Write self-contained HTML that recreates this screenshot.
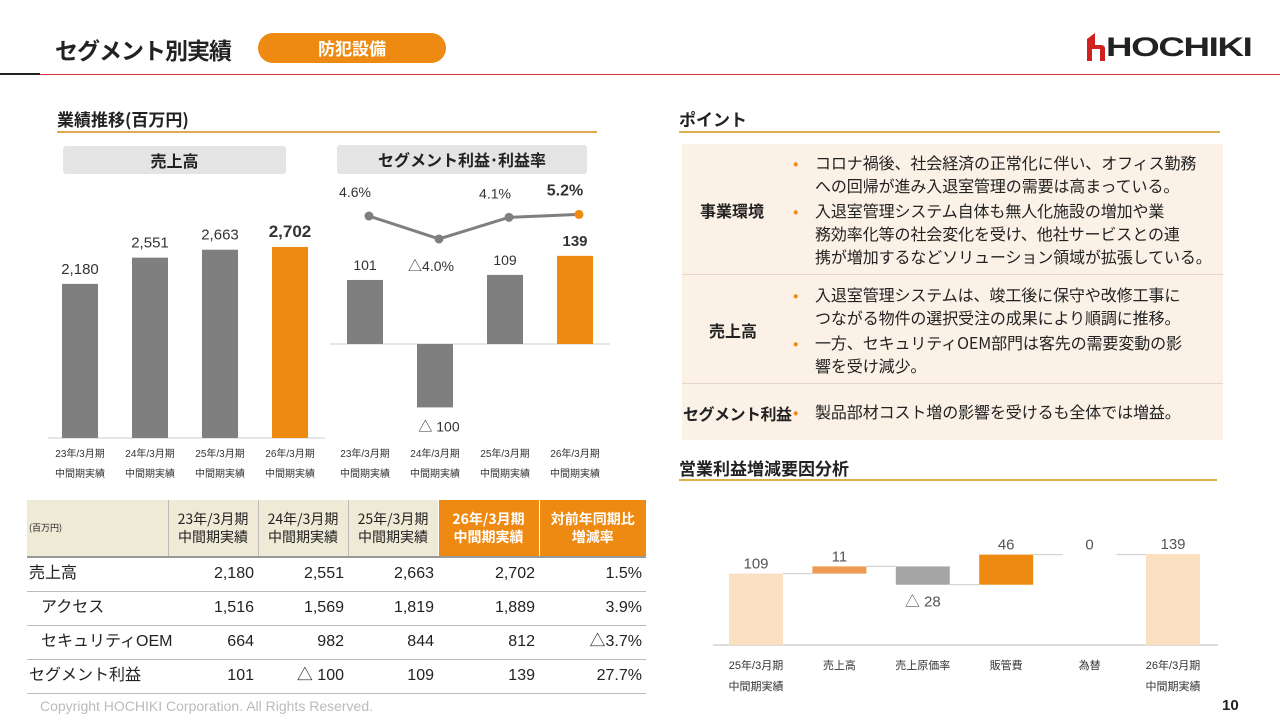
<!DOCTYPE html>
<html><head><meta charset="utf-8">
<style>
*{margin:0;padding:0;box-sizing:border-box}
body{width:1280px;height:720px;background:#fff;font-family:"Liberation Sans","Noto Sans CJK JP",sans-serif;color:#222;position:relative;overflow:hidden}
.a{position:absolute}
.jp{font-family:"Noto Sans CJK JP","Liberation Sans",sans-serif}
table{border-collapse:collapse;position:absolute;left:27px;top:500px;width:619px;font-size:16px;table-layout:fixed;font-family:"Liberation Sans","Noto Sans CJK JP",sans-serif}
td{border-bottom:1px solid #bbb;text-align:right;padding:0 4px 0 0;height:34px;white-space:nowrap;line-height:16px}
td:first-child{text-align:left;padding-left:2px}
th{background:#EEEAD6;font-weight:normal;font-size:14px;line-height:18px;border-left:1px solid #bbb;border-bottom:2px solid #999;height:57px;white-space:nowrap;font-family:"Noto Sans CJK JP",sans-serif}
th.o{background:#EE8A12;color:#fff;font-weight:bold;border-left:1px solid #fff}
.pt{font-size:16px;line-height:23px;color:#222;white-space:nowrap;letter-spacing:-0.1px}
.pt li{list-style:none;position:relative;padding-left:0}
.pt li::before{content:"•";color:#EE8A12;position:absolute;left:-22px}
</style></head><body>
<div class="a" style="left:0;top:73px;width:40px;height:2px;background:#222"></div>
<div class="a" style="left:40px;top:74px;width:1240px;height:1px;background:#E03040"></div>
<div class="a jp" style="left:55px;top:32px;font-size:23px;font-weight:bold;letter-spacing:-1px">セグメント別実績</div>
<div class="a jp" style="left:258px;top:33px;width:188px;height:30px;border-radius:15px;background:#EE8A12;color:#fff;font-weight:bold;font-size:17px;text-align:center;line-height:30px">防犯設備</div>
<div class="a" style="left:1085px;top:33px;height:28px;width:170px">
<svg class="a" style="left:0;top:0" width="20" height="28" viewBox="0 0 20 28"><path d="M2 28V6L10 0V12h6q4 0 4 4v12h-5V16h-8v12z" fill="#D02020"/></svg>
<span class="a" style="left:21px;top:0px;font-weight:900;font-size:27px;line-height:28px;font-family:'Liberation Sans',sans-serif;transform:scaleX(1.36);transform-origin:left top;letter-spacing:-1px">HOCHIKI</span></div>

<div class="a jp" style="left:57px;top:106px;font-size:17px;font-weight:bold">業績推移(百万円)</div>
<div class="a" style="left:57px;top:131px;width:540px;height:2px;background:#E0A850"></div>
<div class="a jp" style="left:63px;top:146px;width:223px;height:28px;background:#E4E4E4;border-radius:3px;text-align:center;font-weight:bold;font-size:16px;line-height:28px">売上高</div>
<div class="a jp" style="left:337px;top:145px;width:250px;height:29px;background:#E4E4E4;border-radius:3px;text-align:center;font-weight:bold;font-size:16px;line-height:28px">セグメント利益･利益率</div>

<svg class="a" id="charts" style="left:0;top:0" width="1280" height="720"></svg>

<div class="a jp" style="left:679px;top:106px;font-size:17px;font-weight:bold">ポイント</div>
<div class="a" style="left:679px;top:131px;width:541px;height:2px;background:#E0B050"></div>
<div class="a" style="left:682px;top:144px;width:541px;height:296px;background:#FCF1E6"></div>
<div class="a" style="left:682px;top:274px;width:541px;height:1px;background:#e6d6c6"></div>
<div class="a" style="left:682px;top:383px;width:541px;height:1px;background:#e6d6c6"></div>
<div class="a jp" style="left:700px;top:198px;font-size:16px;font-weight:bold">事業環境</div>
<div class="a jp" style="left:709px;top:318px;font-size:16px;font-weight:bold">売上高</div>
<div class="a jp" style="left:683px;top:401px;font-size:16px;font-weight:bold;letter-spacing:-0.5px">セグメント利益</div>
<ul class="a pt jp" style="left:815px;top:151px;width:400px">
<li>コロナ禍後、社会経済の正常化に伴い、オフィス勤務<br>への回帰が進み入退室管理の需要は高まっている。</li>
<li style="margin-top:2px">入退室管理システム自体も無人化施設の増加や業<br>務効率化等の社会変化を受け、他社サービスとの連<br>携が増加するなどソリューション領域が拡張している。</li></ul>
<ul class="a pt jp" style="left:815px;top:283px;width:400px">
<li>入退室管理システムは、竣工後に保守や改修工事に<br>つながる物件の選択受注の成果により順調に推移。</li>
<li style="margin-top:2px">一方、セキュリティOEM部門は客先の需要変動の影<br>響を受け減少。</li></ul>
<ul class="a pt jp" style="left:815px;top:400px;width:400px">
<li>製品部材コスト増の影響を受けるも全体では増益。</li></ul>

<div class="a jp" style="left:679px;top:455px;font-size:17px;font-weight:bold">営業利益増減要因分析</div>
<div class="a" style="left:679px;top:479px;width:538px;height:2px;background:#E0B050"></div>

<table>
<colgroup><col style="width:141px"><col style="width:90px"><col style="width:90px"><col style="width:90px"><col style="width:101px"><col style="width:107px"></colgroup>
<tr><th style="text-align:left;font-size:9px;padding-left:2px;border-left:none">(百万円)</th><th>23年/3月期<br>中間期実績</th><th>24年/3月期<br>中間期実績</th><th>25年/3月期<br>中間期実績</th><th class="o">26年/3月期<br>中間期実績</th><th class="o">対前年同期比<br>増減率</th></tr>
<tr><td>売上高</td><td>2,180</td><td>2,551</td><td>2,663</td><td>2,702</td><td>1.5%</td></tr>
<tr><td style="padding-left:14px">アクセス</td><td>1,516</td><td>1,569</td><td>1,819</td><td>1,889</td><td>3.9%</td></tr>
<tr><td style="padding-left:14px">セキュリティOEM</td><td>664</td><td>982</td><td>844</td><td>812</td><td>△3.7%</td></tr>
<tr><td>セグメント利益</td><td>101</td><td>△ 100</td><td>109</td><td>139</td><td>27.7%</td></tr>
</table>
<div class="a" style="left:40px;top:698px;font-size:14px;color:#bbb">Copyright HOCHIKI Corporation. All Rights Reserved.</div>
<div class="a" style="left:1222px;top:697px;font-size:15px;font-weight:bold">10</div>

<script>
const periods=["23年/3月期","24年/3月期","25年/3月期","26年/3月期"];
const sales=[2180,2551,2663,2702];
const profit=[101,-100,109,139];
const margin=[4.6,-4.0,4.1,5.2];
const wfCats=[["25年/3月期","中間期実績"],["売上高"],["売上原価率"],["販管費"],["為替"],["26年/3月期","中間期実績"]];
const wfVals=[109,11,-28,46,0,139];
const wfLabels=["109","11","△ 28","46","0","139"];
const NS="http://www.w3.org/2000/svg";
const svg=document.getElementById('charts');
function mk(t,a,txt){const e=document.createElementNS(NS,t);for(const k in a)e.setAttribute(k,a[k]);if(txt!==undefined)e.textContent=txt;svg.appendChild(e);return e;}
const ORANGE="#EE8A12",GRAY="#7F7F7F";
const fmt=v=>v<0?"△ "+Math.abs(v):v.toLocaleString("en-US");
const sY=v=>438-v*0.0707, sX=i=>62+i*70;
let e=mk('line',{x1:48,x2:325,y1:438,y2:438,stroke:'#ccc'});

sales.forEach((v,i)=>{const last=i===3;
 e=mk('rect',{x:sX(i),y:sY(v),width:36,height:438-sY(v),fill:last?ORANGE:GRAY});
 
 e=mk('text',{x:sX(i)+18,y:sY(v)-10,'text-anchor':'middle','font-size':last?17:15,'font-weight':last?'bold':'normal',fill:'#333'},fmt(v));
 
});
const pY=v=>344-v*0.634, pX=i=>347+i*70, mY=v=>228.3-v*2.67;
e=mk('line',{x1:330,x2:610,y1:344,y2:344,stroke:'#ccc'});

profit.forEach((v,i)=>{const last=i===3;
 e=mk('rect',{x:pX(i),y:Math.min(pY(v),344),width:36,height:Math.abs(344-pY(v)),fill:last?ORANGE:GRAY});
 
 const ly=v>=0?pY(v)-10:pY(v)+24;
 e=mk('text',{x:pX(i)+18+(v<0?4:0),y:ly,'text-anchor':'middle','font-size':last?15:14,'font-weight':last?'bold':'normal',fill:'#333'},fmt(v));
 
});
e=mk('polyline',{points:margin.map((m,i)=>(pX(i)+22)+','+mY(m)).join(' '),fill:'none',stroke:GRAY,'stroke-width':3});

margin.forEach((m,i)=>{const last=i===3;
 e=mk('circle',{cx:pX(i)+22,cy:mY(m),r:4.5,fill:last?ORANGE:GRAY});
 
 const t=(m<0?"△":"")+Math.abs(m).toFixed(1)+"%";
 e=mk('text',{x:pX(i)+(m<0?14:8),y:m<0?mY(m)+32:mY(m)-19,'text-anchor':'middle','font-size':last?16:14,'font-weight':last?'bold':'normal',fill:'#333'},t);
 
});
periods.forEach((p,i)=>{
 [sX(i)+18,pX(i)+18].forEach(x=>{
  e=mk('text',{x:x,y:457,'text-anchor':'middle','font-size':10,fill:'#333'},p);
  
  e=mk('text',{x:x,y:477,'text-anchor':'middle','font-size':10,fill:'#333'},"中間期実績");
  
 });
});
const wY=v=>645-v*0.655, wX=i=>729+i*83.4;
e=mk('line',{x1:713,x2:1218,y1:645,y2:645,stroke:'#bbb'});

let run=0;
wfVals.forEach((v,i)=>{
 const isTotal=i===0||i===wfVals.length-1;
 let lo,hi,fill;
 if(isTotal){lo=0;hi=v;run=v;fill="#FADFC0";}
 else{const prev=run;run+=v;lo=Math.min(prev,run);hi=Math.max(prev,run);fill=v<0?"#A6A6A6":(i===1?"#EE9A50":ORANGE);}
 if(hi>lo){e=mk('rect',{x:wX(i),y:wY(hi),width:54,height:wY(lo)-wY(hi),fill:fill});
 }
 if(i<wfVals.length-1){e=mk('line',{x1:wX(i)+54,x2:wX(i+1),y1:wY(run),y2:wY(run),stroke:'#ccc'});
 }
 const ly=v<0?wY(lo)+22:wY(hi)-5;
 e=mk('text',{x:wX(i)+27,y:ly,'text-anchor':'middle','font-size':15,fill:'#555'},wfLabels[i]);
 
 wfCats[i].forEach((c,j)=>{e=mk('text',{x:wX(i)+27,y:669+j*21,'text-anchor':'middle','font-size':11,fill:'#333'},c);
 });
});
</script>
</body></html>
